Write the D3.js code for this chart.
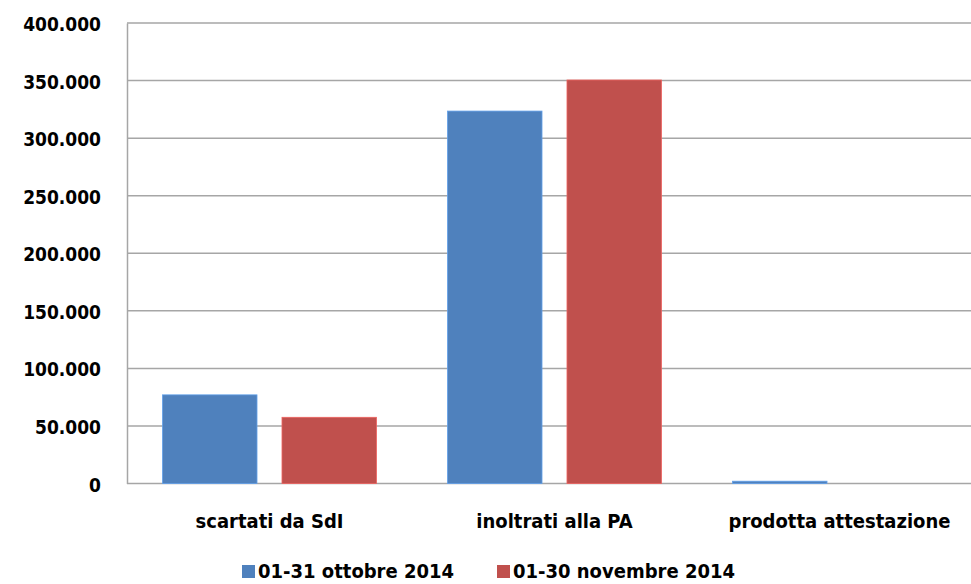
<!DOCTYPE html>
<html>
<head>
<meta charset="utf-8">
<script src="https://cdn.jsdelivr.net/npm/d3@7"></script>
<style>
    body { margin: 0; background: #fff; }
    text { font-family: "DejaVu Sans Condensed", "DejaVu Sans", sans-serif; font-weight: bold; fill: #000; }
</style>
</head>
<body>
<script>
const WIDTH = 971;
const HEIGHT = 584;

// dati
const categorie = ["scartati da SdI", "inoltrati alla PA", "prodotta attestazione"];
const serie = ["01-31 ottobre 2014", "01-30 novembre 2014"];
const ottobre = [77000, 323500, 2000];
const novembre = [57500, 350500, 0];
const tickValori = [0, 50000, 100000, 150000, 200000, 250000, 300000, 350000, 400000];
const colori = ["#4F81BD", "#C0504D"];

const datiTabella = categorie.map((c, i) => ({
    categoria: c,
    valori: [ottobre[i], novembre[i]]
}));

const svg = d3.select("body")
    .append("svg")
    .attr("width", WIDTH)
    .attr("height", HEIGHT);

// l'area del grafico esce a destra come nell'originale
const x0 = d3.scaleBand()
    .domain(categorie)
    .range([127, 982]);

const x1 = d3.scaleBand()
    .domain(serie)
    .range([0, x0.bandwidth()])
    .paddingInner(0.209)
    .paddingOuter(0.297);

const y = d3.scaleLinear()
    .domain([0, 400000])
    .range([483.5, 23]);

const formatta = d3.formatLocale({ decimal: ",", thousands: ".", grouping: [3], currency: ["€", ""] }).format(",d");

// griglia
svg.append("g")
    .selectAll("line")
    .data(tickValori)
    .join("line")
    .attr("x1", 127)
    .attr("x2", WIDTH)
    .attr("y1", d => y(d))
    .attr("y2", d => y(d))
    .attr("stroke", "#a6a6a6")
    .attr("stroke-width", 1.5);

// asse verticale
const asseY = svg.append("g")
    .attr("transform", "translate(127,0)")
    .call(d3.axisLeft(y).tickValues(tickValori).tickSize(0).tickPadding(26).tickFormat(formatta));

asseY.select(".domain")
    .attr("stroke", "#a6a6a6")
    .attr("stroke-width", 1.5);

asseY.selectAll("text")
    .attr("font-size", 19)
    .attr("font-family", "DejaVu Sans")
    .attr("font-weight", "bold")
    .attr("fill", "#000")
    .attr("dy", "0.4em");

// barre
const gruppi = svg.append("g")
    .selectAll("g")
    .data(datiTabella)
    .join("g")
    .attr("transform", d => `translate(${x0(d.categoria)},0)`);

gruppi.selectAll("rect")
    .data(d => d.valori.map((v, i) => ({ serie: serie[i], valore: v, i: i })))
    .join("rect")
    .filter(d => d.valore > 0)
    .attr("x", d => x1(d.serie))
    .attr("y", d => y(d.valore))
    .attr("width", x1.bandwidth())
    .attr("height", d => y(0) - y(d.valore))
    .attr("fill", d => colori[d.i])
    .attr("stroke", d => d3.color(colori[d.i]).brighter(0.6))
    .attr("stroke-width", 0.8);

// etichette categorie
svg.append("g")
    .selectAll("text")
    .data(categorie)
    .join("text")
    .attr("x", d => x0(d) + x0.bandwidth() / 2)
    .attr("y", 528)
    .attr("text-anchor", "middle")
    .attr("font-size", 20)
    .text(d => d);

// legenda
const legendaX = [242, 497];
const legenda = svg.append("g")
    .selectAll("g")
    .data(serie)
    .join("g")
    .attr("transform", (d, i) => `translate(${legendaX[i]},0)`);

legenda.append("rect")
    .attr("x", 0)
    .attr("y", 565)
    .attr("width", 13)
    .attr("height", 13)
    .attr("fill", (d, i) => colori[i]);

legenda.append("text")
    .attr("x", 16)
    .attr("y", 578)
    .attr("font-size", 20)
    .text(d => d);
</script>
</body>
</html>
